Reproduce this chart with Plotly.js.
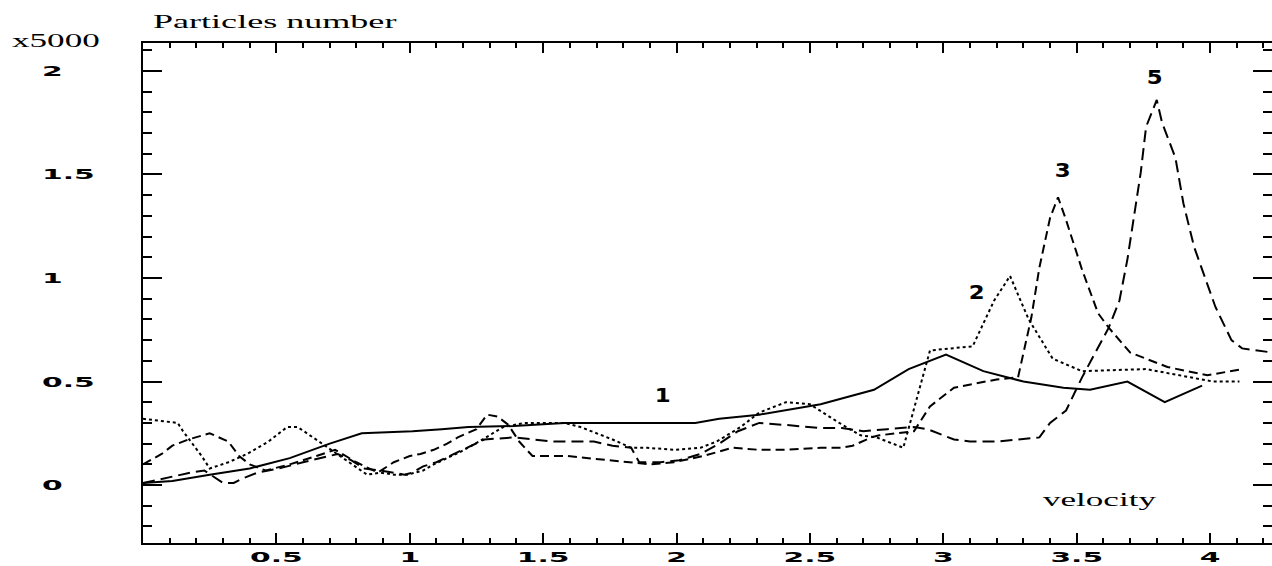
<!DOCTYPE html>
<html>
<head>
<meta charset="utf-8">
<script src="https://cdn.plot.ly/plotly-3.0.1.min.js"></script>
<style>
  html, body { margin: 0; padding: 0; background: #fff; }
  #chart { width: 1272px; height: 566px; }
</style>
</head>
<body>
<div id="chart"></div>
<script>
// ---- data ----
const xTickVals = [0.5, 1, 1.5, 2, 2.5, 3, 3.5, 4];
const xTickText = ['0.5', '1', '1.5', '2', '2.5', '3', '3.5', '4'];
const yTickVals = [2, 1.5, 1, 0.5, 0];
const yTickText = ['2', '1.5', '1', '0.5', '0'];
const curveNames = ['1', '2', '3', '5'];

const x1 = [0.0, 0.11, 0.25, 0.40, 0.55, 0.70, 0.82, 1.01, 1.12, 1.22, 1.39, 1.58, 1.83, 2.07, 2.16, 2.31, 2.54, 2.65, 2.74, 2.87, 3.01, 3.15, 3.30, 3.45, 3.55, 3.69, 3.83, 3.97];
const y1 = [0.01, 0.02, 0.05, 0.08, 0.13, 0.20, 0.25, 0.26, 0.27, 0.28, 0.285, 0.30, 0.30, 0.30, 0.32, 0.34, 0.39, 0.43, 0.46, 0.56, 0.63, 0.55, 0.50, 0.47, 0.46, 0.50, 0.40, 0.48];

const x2 = [0.0, 0.13, 0.15, 0.18, 0.22, 0.25, 0.32, 0.39, 0.47, 0.54, 0.58, 0.66, 0.74, 0.84, 0.89, 0.94, 0.99, 1.05, 1.09, 1.14, 1.19, 1.26, 1.35, 1.43, 1.58, 1.64, 1.70, 1.76, 1.83, 1.89, 1.99, 2.09, 2.15, 2.24, 2.31, 2.41, 2.50, 2.61, 2.69, 2.75, 2.85, 2.95, 3.11, 3.19, 3.25, 3.32, 3.41, 3.52, 3.76, 4.01, 4.11];
const y2 = [0.32, 0.30, 0.26, 0.21, 0.14, 0.08, 0.11, 0.15, 0.21, 0.28, 0.28, 0.21, 0.14, 0.05, 0.06, 0.05, 0.05, 0.07, 0.10, 0.13, 0.16, 0.21, 0.28, 0.30, 0.30, 0.28, 0.25, 0.22, 0.18, 0.18, 0.17, 0.18, 0.21, 0.28, 0.35, 0.40, 0.39, 0.30, 0.24, 0.23, 0.18, 0.65, 0.67, 0.89, 1.01, 0.80, 0.61, 0.55, 0.56, 0.50, 0.50];

const x3 = [0.0, 0.07, 0.11, 0.17, 0.25, 0.32, 0.36, 0.40, 0.46, 0.55, 0.65, 0.72, 0.80, 0.88, 0.94, 1.00, 1.04, 1.09, 1.14, 1.18, 1.25, 1.29, 1.33, 1.37, 1.41, 1.46, 1.59, 1.74, 1.81, 1.90, 1.99, 2.10, 2.21, 2.31, 2.41, 2.54, 2.62, 2.66, 2.73, 2.76, 2.89, 2.95, 3.04, 3.20, 3.28, 3.33, 3.36, 3.40, 3.43, 3.46, 3.52, 3.58, 3.62, 3.70, 3.84, 3.99, 4.12];
const y3 = [0.10, 0.15, 0.19, 0.22, 0.25, 0.21, 0.14, 0.10, 0.07, 0.10, 0.14, 0.17, 0.11, 0.06, 0.11, 0.14, 0.15, 0.17, 0.20, 0.23, 0.27, 0.34, 0.33, 0.29, 0.21, 0.14, 0.14, 0.12, 0.11, 0.10, 0.11, 0.14, 0.18, 0.17, 0.17, 0.18, 0.18, 0.19, 0.23, 0.24, 0.26, 0.38, 0.47, 0.51, 0.52, 0.81, 1.05, 1.29, 1.39, 1.28, 1.04, 0.83, 0.76, 0.64, 0.57, 0.53, 0.56];

const x5 = [0.0, 0.18, 0.23, 0.30, 0.34, 0.37, 0.43, 0.51, 0.60, 0.69, 0.73, 0.78, 0.83, 0.89, 0.93, 0.98, 1.01, 1.05, 1.10, 1.15, 1.23, 1.28, 1.39, 1.54, 1.69, 1.76, 1.83, 1.86, 1.94, 2.01, 2.09, 2.16, 2.23, 2.31, 2.41, 2.54, 2.62, 2.70, 2.79, 2.89, 2.94, 3.04, 3.10, 3.20, 3.36, 3.40, 3.46, 3.52, 3.62, 3.66, 3.69, 3.74, 3.76, 3.80, 3.82, 3.87, 3.90, 3.94, 4.02, 4.08, 4.12, 4.232];
const y5 = [0.01, 0.06, 0.07, 0.01, 0.01, 0.03, 0.06, 0.08, 0.11, 0.14, 0.15, 0.12, 0.08, 0.07, 0.06, 0.05, 0.06, 0.09, 0.11, 0.14, 0.19, 0.22, 0.23, 0.21, 0.21, 0.19, 0.18, 0.11, 0.11, 0.12, 0.15, 0.20, 0.26, 0.30, 0.29, 0.275, 0.275, 0.26, 0.27, 0.28, 0.27, 0.22, 0.21, 0.21, 0.23, 0.30, 0.36, 0.52, 0.76, 0.89, 1.09, 1.51, 1.73, 1.86, 1.75, 1.58, 1.36, 1.15, 0.86, 0.70, 0.66, 0.64];

// ---- chart ----
const lineStyle = (dash) => ({ color: '#000', width: 2, dash: dash });
const traces = [
  { x: x1, y: y1, mode: 'lines', name: curveNames[0], line: lineStyle('solid') },
  { x: x2, y: y2, mode: 'lines', name: curveNames[1], line: lineStyle('3px,3px') },
  { x: x3, y: y3, mode: 'lines', name: curveNames[2], line: lineStyle('9px,5px') },
  { x: x5, y: y5, mode: 'lines', name: curveNames[3], line: lineStyle('12px,6px') }
];

const tickFont = { family: 'DejaVu Sans', size: 14.5, color: '#000', weight: 'bold' };
const serifFont = { family: 'Liberation Serif', size: 19.5, color: '#000' };
const labelFont = { family: 'DejaVu Sans', size: 19, color: '#000', weight: 'bold' };

const annotations = [];
yTickVals.forEach((v, i) => annotations.push({
  xref: 'paper', yref: 'y', x: -0.0912, y: v, text: yTickText[i],
  xanchor: 'left', yanchor: 'middle', align: 'left', showarrow: false, font: tickFont
}));
annotations.push({ xref: 'paper', yref: 'paper', x: -0.1178, y: 1.006, text: 'x5000',
  xanchor: 'left', yanchor: 'middle', align: 'left', showarrow: false, font: serifFont });
annotations.push({ xref: 'x', yref: 'y', x: 3.587, y: -0.072, text: 'velocity',
  xanchor: 'center', yanchor: 'middle', showarrow: false, font: serifFont });
const labelPos = [[1.946, 0.435], [3.126, 0.932], [3.445, 1.52], [3.793, 1.97]];
curveNames.forEach((n, i) => annotations.push({
  xref: 'x', yref: 'y', x: labelPos[i][0], y: labelPos[i][1], text: n,
  xanchor: 'center', yanchor: 'middle', showarrow: false, font: labelFont
}));

const layout = {
  width: 1272, height: 566,
  margin: { l: 143, r: 0, t: 43, b: 23 },
  paper_bgcolor: '#fff', plot_bgcolor: '#fff',
  showlegend: false,
  title: { text: 'Particles number', font: serifFont, x: 153 / 1272, xref: 'container',
           xanchor: 'left', y: 1 - 21 / 566, yref: 'container', yanchor: 'middle' },
  xaxis: {
    range: [0, 4.232], showgrid: false, zeroline: false,
    showline: true, linecolor: '#000', linewidth: 2, mirror: 'allticks',
    ticks: 'inside', ticklen: 10, tickwidth: 2, tickcolor: '#000',
    tickmode: 'array', tickvals: xTickVals, ticktext: xTickText,
    tickfont: tickFont,
    minor: { ticks: 'inside', ticklen: 5, tickwidth: 2, tickcolor: '#000', dtick: 0.1, tick0: 0, showgrid: false }
  },
  yaxis: {
    range: [-0.28, 2.135], showgrid: false, zeroline: false,
    showline: true, linecolor: '#000', linewidth: 2, mirror: 'allticks',
    ticks: 'inside', ticklen: 19, tickwidth: 2, tickcolor: '#000',
    tickmode: 'array', tickvals: yTickVals, showticklabels: false,
    minor: { ticks: 'inside', ticklen: 9, tickwidth: 2, tickcolor: '#000', dtick: 0.1, tick0: 0, showgrid: false }
  },
  annotations: annotations
};

function stretch(el, k) {
  if (!el) return;
  const w = el.getComputedTextLength();
  if (w > 0) {
    el.setAttribute('textLength', (w * k).toFixed(1));
    el.setAttribute('lengthAdjust', 'spacingAndGlyphs');
  }
}

Plotly.newPlot('chart', traces, layout, { displayModeBar: false, staticPlot: true }).then(gd => {
  gd.querySelectorAll('.xtick text').forEach(t => stretch(t, 2.05));
  stretch(gd.querySelector('.gtitle'), 1.85);
  const annTexts = gd.querySelectorAll('.annotation-text');
  annTexts.forEach((t, i) => {
    let k = 2.05;
    if (i === 5 || i === 6) k = 1.8;
    if (i >= 7) k = 1.2;
    stretch(t, k);
  });
});
</script>
</body>
</html>
